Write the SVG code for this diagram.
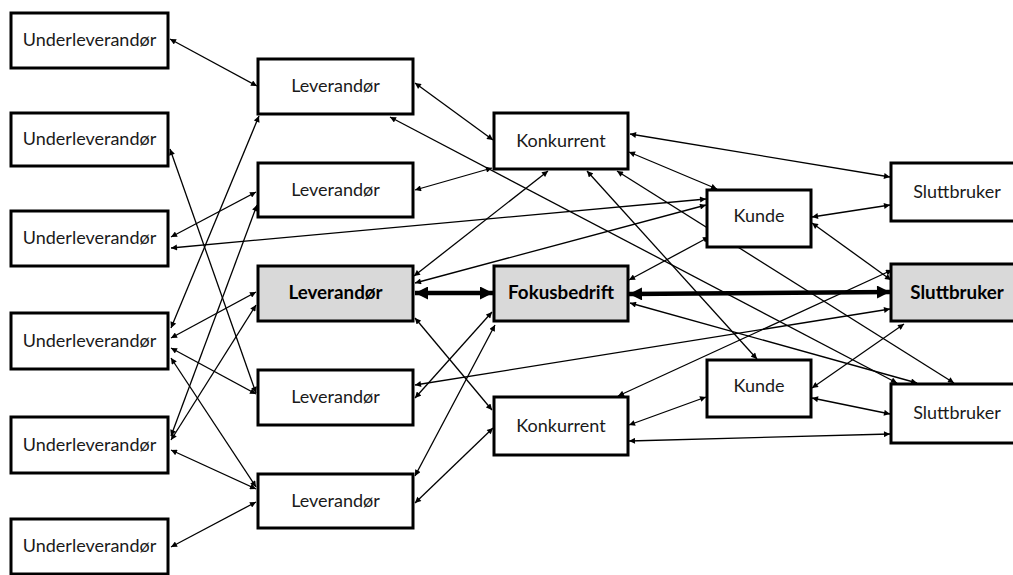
<svg xmlns="http://www.w3.org/2000/svg" width="1013" height="575" viewBox="0 0 1013 575">
  <style>
    .box { fill: #ffffff; stroke: #000000; stroke-width: 3; }
    .focus { fill: #d9d9d9; stroke: #000000; stroke-width: 3; }
    .lbl { font-family: Lato, "Liberation Sans", sans-serif; font-size: 18px; fill: #1a1a1a; text-anchor: middle; }
    .bold { font-weight: bold; font-size: 18.8px; fill: #000000; }
    .link { stroke: #000000; stroke-width: 1.3; fill: none; marker-start: url(#ah); marker-end: url(#ah); }
    .main { stroke: #000000; stroke-width: 4.5; fill: none; marker-start: url(#big); marker-end: url(#big); }
  </style>
  <defs>
    <marker id="ah" viewBox="0 0 10 10" refX="10" refY="5" markerWidth="7" markerHeight="6" markerUnits="userSpaceOnUse" orient="auto-start-reverse">
      <path d="M0,0 L10,5 L0,10 z" fill="#000000"/>
    </marker>
    <marker id="big" viewBox="0 0 10 10" refX="10" refY="5" markerWidth="14" markerHeight="13" markerUnits="userSpaceOnUse" orient="auto-start-reverse">
      <path d="M0,0 L10,5 L0,10 z" fill="#000000"/>
    </marker>
  </defs>
  <rect width="1013" height="575" fill="#ffffff"/>

  <g id="connectors">
    <!-- underleverandører to leverandører -->
    <line class="link" x1="170" y1="39" x2="257" y2="86"/>
    <line class="link" x1="170" y1="149" x2="256" y2="393"/>
    <line class="link" x1="171" y1="237" x2="256" y2="192"/>
    <line class="link" x1="171" y1="248" x2="706" y2="199"/>
    <line class="link" x1="171" y1="328" x2="259" y2="116"/>
    <line class="link" x1="171" y1="338" x2="256" y2="292"/>
    <line class="link" x1="171" y1="348" x2="256" y2="394"/>
    <line class="link" x1="171" y1="358" x2="256" y2="487"/>
    <line class="link" x1="171" y1="436" x2="257" y2="205"/>
    <line class="link" x1="171" y1="440" x2="256" y2="305"/>
    <line class="link" x1="171" y1="450" x2="256" y2="489"/>
    <line class="link" x1="171" y1="547" x2="256" y2="502"/>
    <!-- leverandører onward -->
    <line class="link" x1="415" y1="83" x2="493" y2="140"/>
    <line class="link" x1="390" y1="117" x2="897" y2="383"/>
    <line class="link" x1="415" y1="190" x2="492" y2="168"/>
    <line class="link" x1="414" y1="276" x2="548" y2="171"/>
    <line class="link" x1="415" y1="283" x2="706" y2="205"/>
    <line class="link" x1="415" y1="318" x2="492" y2="410"/>
    <line class="link" x1="415" y1="398" x2="492" y2="312"/>
    <line class="link" x1="415" y1="385" x2="890" y2="309"/>
    <line class="link" x1="415" y1="476" x2="495" y2="325"/>
    <line class="link" x1="415" y1="503" x2="493" y2="428"/>
    <!-- konkurrenter, kunder, sluttbrukere -->
    <line class="link" x1="630" y1="134" x2="890" y2="177"/>
    <line class="link" x1="629" y1="152" x2="717" y2="189"/>
    <line class="link" x1="587" y1="171" x2="757" y2="359"/>
    <line class="link" x1="617" y1="171" x2="954" y2="383"/>
    <line class="link" x1="629" y1="280" x2="709" y2="237"/>
    <line class="link" x1="630" y1="303" x2="917" y2="383"/>
    <line class="link" x1="812" y1="217" x2="890" y2="205"/>
    <line class="link" x1="812" y1="223" x2="891" y2="280"/>
    <line class="link" x1="629" y1="425" x2="706" y2="397"/>
    <line class="link" x1="629" y1="441" x2="890" y2="434"/>
    <line class="link" x1="618" y1="396" x2="892" y2="270"/>
    <line class="link" x1="812" y1="388" x2="904" y2="324"/>
    <line class="link" x1="812" y1="398" x2="890" y2="414"/>
    <!-- main value chain -->
    <line class="main" x1="415" y1="293" x2="493" y2="293"/>
    <line class="main" x1="629" y1="294" x2="890" y2="292"/>
  </g>

  <g id="u1"><rect class="box" x="11" y="13" width="157" height="55"/><text class="lbl" x="89.5" y="46">Underleverandør</text></g>
  <g id="u2"><rect class="box" x="11" y="113" width="157" height="53"/><text class="lbl" x="89.5" y="145">Underleverandør</text></g>
  <g id="u3"><rect class="box" x="11" y="211" width="157" height="55"/><text class="lbl" x="89.5" y="244">Underleverandør</text></g>
  <g id="u4"><rect class="box" x="11" y="313" width="157" height="56"/><text class="lbl" x="89.5" y="347">Underleverandør</text></g>
  <g id="u5"><rect class="box" x="11" y="417" width="157" height="56"/><text class="lbl" x="89.5" y="451">Underleverandør</text></g>
  <g id="u6"><rect class="box" x="11" y="519" width="157" height="55"/><text class="lbl" x="89.5" y="552">Underleverandør</text></g>

  <g id="l1"><rect class="box" x="258" y="59" width="155" height="55"/><text class="lbl" x="335.5" y="92">Leverandør</text></g>
  <g id="l2"><rect class="box" x="258" y="163" width="155" height="54"/><text class="lbl" x="335.5" y="196">Leverandør</text></g>
  <g id="l3"><rect class="focus" x="258" y="266" width="155" height="55"/><text class="lbl bold" x="335.5" y="299">Leverandør</text></g>
  <g id="l4"><rect class="box" x="258" y="370" width="155" height="55"/><text class="lbl" x="335.5" y="403">Leverandør</text></g>
  <g id="l5"><rect class="box" x="258" y="474" width="155" height="54"/><text class="lbl" x="335.5" y="507">Leverandør</text></g>

  <g id="k1"><rect class="box" x="494" y="113" width="134" height="56"/><text class="lbl" x="561" y="147">Konkurrent</text></g>
  <g id="fokus"><rect class="focus" x="494" y="266" width="134" height="55"/><text class="lbl bold" x="561" y="299">Fokusbedrift</text></g>
  <g id="k2"><rect class="box" x="494" y="397" width="134" height="58"/><text class="lbl" x="561" y="432">Konkurrent</text></g>

  <g id="kunde1"><rect class="box" x="707" y="190" width="104" height="57"/><text class="lbl" x="759" y="222">Kunde</text></g>
  <g id="kunde2"><rect class="box" x="707" y="360" width="104" height="57"/><text class="lbl" x="759" y="392">Kunde</text></g>

  <g id="s1"><rect class="box" x="891" y="163" width="130" height="58"/><text class="lbl" x="957" y="198">Sluttbruker</text></g>
  <g id="s2"><rect class="focus" x="891" y="264" width="130" height="57"/><text class="lbl bold" x="957" y="299">Sluttbruker</text></g>
  <g id="s3"><rect class="box" x="891" y="384" width="130" height="59"/><text class="lbl" x="957" y="419">Sluttbruker</text></g>
</svg>
